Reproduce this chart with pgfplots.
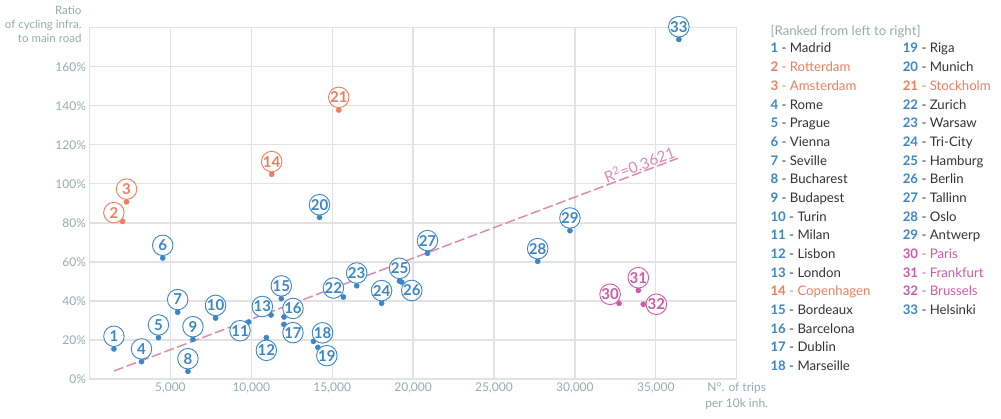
\documentclass[border=0pt]{standalone}
\usepackage{fontspec}
\setmainfont{Lato}
\usepackage{pgfplots}
\usepackage{pgfplotstable}
\pgfplotsset{compat=1.18}
\definecolor{cblue}{HTML}{3B86C6}
\definecolor{corange}{HTML}{EE7D5C}
\definecolor{cpink}{HTML}{D05AA5}
\definecolor{ctrend}{HTML}{E08AAE}
\definecolor{cgrid}{HTML}{E2E2E2}
\definecolor{ctick}{HTML}{98AAAA}
\definecolor{ctext}{HTML}{333333}

\pgfplotstableread{
x y lab dx dy
1509 15.4 1 0 12.7
3214 8.9 4 0 12.7
4261 21.2 5 0 12.7
4526 62.0 6 0 12.7
5450 34.2 7 0 12.7
6084 3.9 8 0 12.7
6393 20.3 9 0 12.7
7790 31.2 10 0 12.7
9842 29.2 11 -8.7 -8.7
10931 21.2 12 0 -12.7
11218 32.8 13 -8.7 8.5
11854 41.2 15 0 12.7
12019 31.8 16 9 8.5
12019 28.0 17 9 -8.3
13845 19.3 18 9 8.5
14112 16.2 19 9 -8.3
14215 82.8 20 0 12.7
15693 42.0 22 -10 9
16513 47.8 23 0 12.7
18053 38.8 24 0 12.7
19162 50.2 25 0 12.7
19300 49.6 26 10 -8.3
20887 64.4 27 0 12.7
27700 60.3 28 0 12.7
29693 76.0 29 0 12.7
36425 174.0 33 0 12.7
}\blue
\pgfplotstableread{
x y lab dx dy
2044 80.8 2 -8.7 8.7
2290 90.8 3 0 12.7
11259 104.9 14 0 12.7
15405 137.8 21 0 12.7
}\orange
\pgfplotstableread{
x y lab dx dy
32730 38.8 30 -9 9
33920 45.4 31 0 12.7
34228 38.3 32 13 0
}\pink

\pgfplotsset{
  pts/.style={only marks, mark=*, mark size=2.6pt, color=#1,
    point meta=explicit symbolic,
    visualization depends on={\thisrow{dx} \as \dx},
    visualization depends on={\thisrow{dy} \as \dy},
    nodes near coords,
    every node near coord/.append style={circle, draw=#1, fill=white, line width=0.9pt,
      minimum size=20.5pt, inner sep=0pt, anchor=center, xshift=\dx pt, yshift=\dy pt,
      font=\fontsize{15}{15}\selectfont\bfseries, text=#1}},
}

\begin{document}
\begin{tikzpicture}
\begin{axis}[
  scale only axis, width=647.2pt, height=351.3pt,
  xmin=0, xmax=40000, ymin=0, ymax=180,
  clip=false,
  scaled x ticks=false, scaled y ticks=false,
  xtick={5000,10000,15000,20000,25000,30000,35000,40000},
  xticklabels={{5,000},{10,000},{15,000},{20,000},{25,000},{30,000},{35,000},{N°. of trips\\per 10k inh.}},
  ytick={0,20,40,60,80,100,120,140,160,180},
  yticklabels={0\%,20\%,40\%,60\%,80\%,100\%,120\%,140\%,160\%,{}},
  xticklabel style={font=\fontsize{12}{16.5}\selectfont, text=ctick, align=center},
  yticklabel style={font=\fontsize{12}{14}\selectfont, text=ctick},
  major tick length=0pt,
  grid=major,
  major grid style={cgrid, line width=1.3pt},
  axis line style={cgrid, line width=1.3pt},
  ylabel={Ratio\\of cycling infra.\\to main road},
  ylabel style={rotate=-90, at={(rel axis cs:0,1)}, anchor=east, align=right,
    font=\fontsize{11.5}{13.8}\selectfont, text=ctick, xshift=-4.5pt, yshift=3.5pt},
]
\addplot[ctrend, line width=1.5pt, dash pattern=on 10pt off 3.5pt] coordinates {(1509,4.1) (36363,113.1)};
\node[rotate=20.6, anchor=south east, inner sep=1pt, text=ctrend, font=\fontsize{15.5}{15.5}\selectfont] at (axis cs:36363,113.1) {R\textsuperscript{2}=0.3621};
\addplot[pts=cblue] table[x=x, y=y, meta=lab] {\blue};
\addplot[pts=corange] table[x=x, y=y, meta=lab] {\orange};
\addplot[pts=cpink] table[x=x, y=y, meta=lab] {\pink};
\end{axis}
\node[anchor=base west, font=\fontsize{13.2}{13.2}\selectfont, text=ctick] at ([shift={(30.3pt,-8.3pt)}]current axis.north east) {[Ranked from left to right]};
\foreach \n/\name/\nc/\tc [count=\i, evaluate=\i as \yy using -25.3-(\i-1)*18.68] in {
  1/Madrid/cblue/ctext, 2/Rotterdam/corange/corange, 3/Amsterdam/corange/corange,
  4/Rome/cblue/ctext, 5/Prague/cblue/ctext, 6/Vienna/cblue/ctext, 7/Seville/cblue/ctext,
  8/Bucharest/cblue/ctext, 9/Budapest/cblue/ctext, 10/Turin/cblue/ctext, 11/Milan/cblue/ctext,
  12/Lisbon/cblue/ctext, 13/London/cblue/ctext, 14/Copenhagen/corange/corange,
  15/Bordeaux/cblue/ctext, 16/Barcelona/cblue/ctext, 17/Dublin/cblue/ctext, 18/Marseille/cblue/ctext}
  \node[anchor=base west, font=\fontsize{13.2}{13.2}\selectfont] at ([shift={(30.3pt,\yy pt)}]current axis.north east)
    {\textcolor{\nc}{\bfseries\n}\textcolor{\tc}{\ - \name}};
\foreach \n/\name/\nc/\tc [count=\i, evaluate=\i as \yy using -25.3-(\i-1)*18.68] in {
  19/Riga/cblue/ctext, 20/Munich/cblue/ctext, 21/Stockholm/corange/corange,
  22/Zurich/cblue/ctext, 23/Warsaw/cblue/ctext, 24/Tri-City/cblue/ctext, 25/Hamburg/cblue/ctext,
  26/Berlin/cblue/ctext, 27/Tallinn/cblue/ctext, 28/Oslo/cblue/ctext, 29/Antwerp/cblue/ctext,
  30/Paris/cpink/cpink, 31/Frankfurt/cpink/cpink, 32/Brussels/cpink/cpink, 33/Helsinki/cblue/ctext}
  \node[anchor=base west, font=\fontsize{13.2}{13.2}\selectfont] at ([shift={(162.6pt,\yy pt)}]current axis.north east)
    {\textcolor{\nc}{\bfseries\n}\textcolor{\tc}{\ - \name}};
\pgfresetboundingbox
\path ([shift={(-89.5pt,-39pt)}]current axis.south west) rectangle ([shift={(264.3pt,27.7pt)}]current axis.north east);
\end{tikzpicture}
\end{document}
